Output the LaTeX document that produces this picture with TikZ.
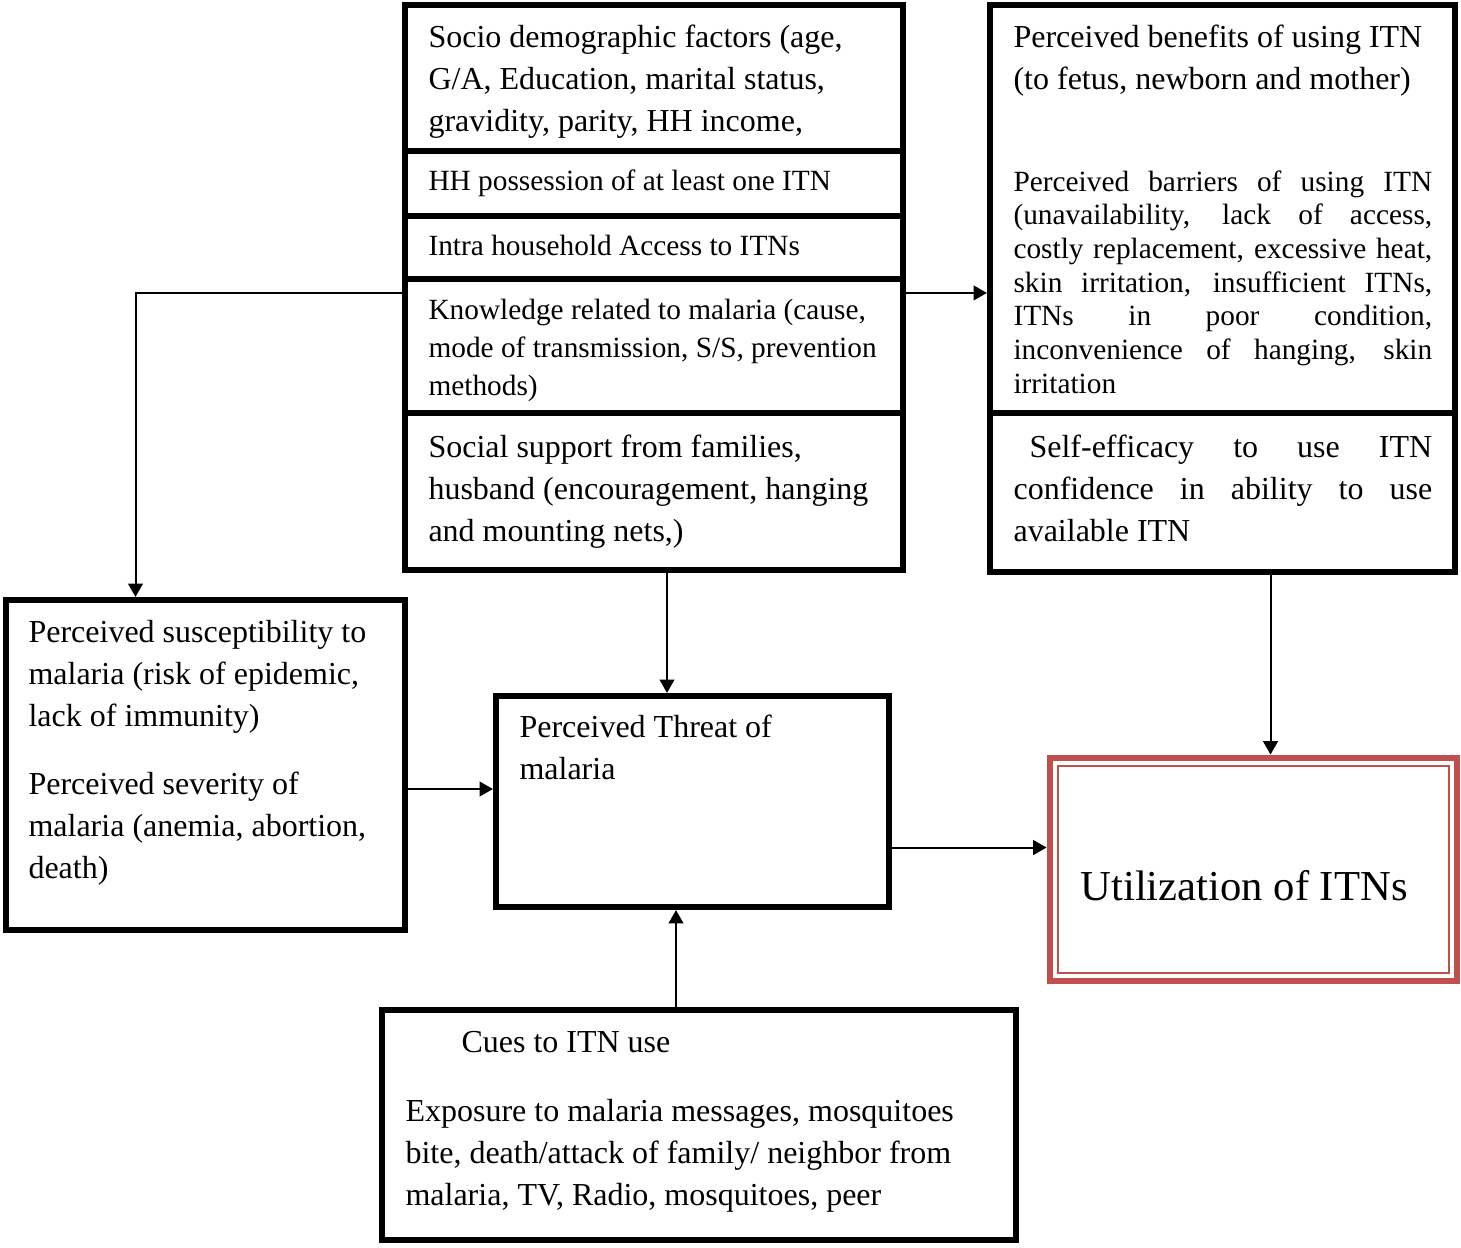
\documentclass[tikz,border=0pt]{standalone}
\usepackage{fontspec}
\setmainfont{Liberation Serif}
\usepackage{tikz}
\usetikzlibrary{arrows.meta,fit}
\definecolor{ink}{HTML}{000000}
\definecolor{accent}{HTML}{C0504D}
\tikzset{
  box/.style={draw=ink, line width=2.3pt, inner sep=0pt},
  goal/.style={draw=accent, line width=2.6pt, inner sep=0pt},
  goalin/.style={draw=accent, line width=0.8pt, inner sep=0pt},
  txt/.style={anchor=base west, inner sep=0pt, text width=220pt, align=flush left, text=ink, font=\fontsize{12pt}{#1}\selectfont},
  txt/.default=15.9pt,
  stxt/.style={txt, font=\fontsize{11pt}{#1}\selectfont},
  stxt/.default=13.2pt,
  just/.style={text width=157pt, align=justify},
  arr/.style={draw=ink, line width=0.75pt, -{Triangle[length=5pt,width=5.5pt]}}
}

\begin{document}
\begin{tikzpicture}[x=0.375pt, y=-0.375pt]
  \useasboundingbox (0,0) rectangle (1461,1247);

  \node[box, fit={(405,5) (903,151)}] (socio) {};
  \node[box, fit={(405,151) (903,216)}] (hh) {};
  \node[box, fit={(405,216) (903,279)}] (intra) {};
  \node[box, fit={(405,279) (903,413)}] (know) {};
  \node[box, fit={(405,413) (903,570)}] (social) {};
  \node[box, fit={(990,5) (1455,413)}] (bene) {};
  \node[box, fit={(990,413) (1455,572)}] (self) {};
  \node[box, fit={(6,600) (405,930)}] (susc) {};
  \node[box, fit={(496,696) (889,907)}] (threat) {};
  \node[box, fit={(382,1010) (1016,1240)}] (cues) {};
  \node[goal, fit={(1050,758) (1457,981)}] (util) {};
  \node[goalin, fit={(1058,766) (1449,973)}] (util-in) {};

  \node[txt] (socio-t) at (428,47) {Socio demographic factors (age,\\G/A, Education, marital status,\\gravidity, parity, HH income,};
  \node[stxt] (hh-t) at (428,190) {HH possession of at least one ITN};
  \node[stxt] (intra-t) at (428,255) {Intra household Access to ITNs};
  \node[stxt=14.4pt] (know-t) at (428,319) {Knowledge related to malaria (cause,\\mode of transmission, S/S, prevention\\methods)};
  \node[txt=15.75pt] (social-t) at (428,457) {Social support from families,\\husband (encouragement, hanging\\and mounting nets,)};
  \node[txt=15.75pt] (bene-t) at (1013,47) {Perceived benefits of using ITN\\(to fetus, newborn and mother)};
  \node[stxt=12.64pt, just] (barr-t) at (1013,191) {Perceived barriers of using ITN\linebreak (unavailability, lack of access,\linebreak costly replacement, excessive heat,\linebreak skin irritation, insufficient ITNs,\linebreak ITNs in poor condition,\linebreak inconvenience of hanging, skin\linebreak irritation};
  \node[txt=15.75pt, just] (self-t) at (1013,457) {\hspace*{6pt}Self-efficacy to use ITN\linebreak confidence in ability to use\linebreak available ITN};
  \node[txt=15.75pt] (susc-t) at (28,642) {Perceived susceptibility to\\malaria (risk of epidemic,\\lack of immunity)\\[10.1pt]Perceived severity of\\malaria (anemia, abortion,\\death)};
  \node[txt=16.1pt] (threat-t) at (519,737) {Perceived Threat of\\malaria};
  \node[txt, font=\fontsize{16pt}{19pt}\selectfont] (util-t) at (1080,900) {Utilization of ITNs};
  \node[txt] (cues-t) at (461,1052) {Cues to ITN use};
  \node[txt] (cues-b) at (405,1121) {Exposure to malaria messages, mosquitoes\\bite, death/attack of family/ neighbor from\\malaria, TV, Radio, mosquitoes, peer};

  \draw[arr] ([shift={(0,17)}]know.north west) -| ([shift={(-70,0)}]susc.north);
  \draw[arr] ([shift={(0,17)}]know.north east) -- ([shift={(0,17)}]know.north east -| bene.west);
  \draw[arr] ([shift={(13,0)}]social.south) -- ([shift={(13,0)}]social.south |- threat.north);
  \draw[arr] ([shift={(48,0)}]self.south) -- ([shift={(48,0)}]self.south |- util.north);
  \draw[arr] ([shift={(0,24)}]susc.east) -- ([shift={(0,24)}]susc.east -| threat.west);
  \draw[arr] ([shift={(0,46)}]threat.east) -- ([shift={(0,46)}]threat.east -| util.west);
  \draw[arr] ([shift={(-23,0)}]cues.north) -- ([shift={(-23,0)}]cues.north |- threat.south);
\end{tikzpicture}
\end{document}
